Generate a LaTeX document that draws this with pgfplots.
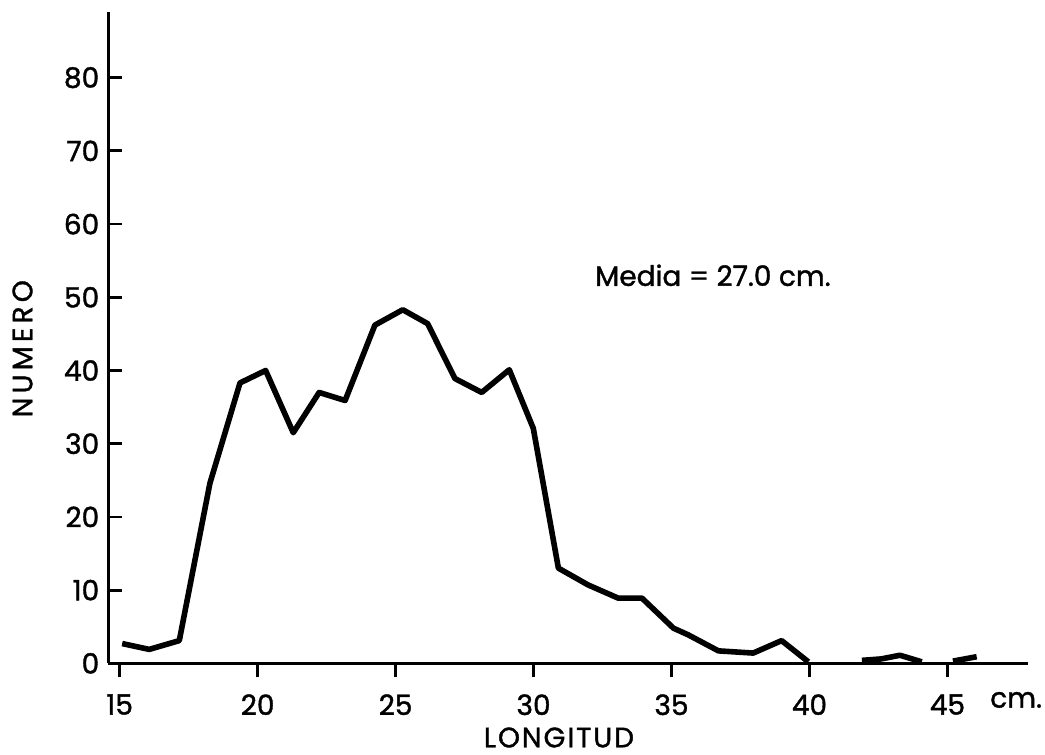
\documentclass[border=0pt]{standalone}
\usepackage{fontspec}
\setmainfont{Poppins}[FakeBold=1.3]
\newfontfamily\spacedA{Poppins}[FakeBold=1.3, LetterSpace=15]
\newfontfamily\spacedB{Poppins}[FakeBold=1.3, LetterSpace=7]
\usepackage{pgfplots}
\pgfplotsset{compat=1.18}

\begin{document}
\begin{tikzpicture}
\begin{axis}[
    name=ax,
    scale only axis,
    width=459.85pt, height=325.65pt,
    xmin=14.587, xmax=47.92,
    ymin=0, ymax=88.97,
    axis x line=bottom, axis y line=left,
    axis line style={-, line width=1.4pt},
    xtick={15,20,...,45},
    ytick={0,10,...,80},
    xtick align=outside, ytick align=inside,
    major tick length=7pt,
    tick style={line width=1.4pt, black},
    font=\fontsize{14}{16}\selectfont,
    /pgf/number format/assume math mode=true,
    xticklabel style={yshift=-5pt},
    yticklabel style={xshift=-1pt},
    clip=false,
]
% the curve is broken twice near the axis, so three pieces
\addplot[black, line width=2.8pt, line join=round] coordinates {
    (15.09,2.7) (16.07,1.9) (17.16,3.1) (18.27,24.6) (19.36,38.3)
    (20.29,40.0) (21.29,31.5) (22.23,37.0) (23.17,35.9) (24.25,46.2)
    (25.26,48.3) (26.16,46.4) (27.15,38.9) (28.12,37.0) (29.12,40.1)
    (29.99,32.1) (30.9,13.0) (31.98,10.7) (33.07,8.9) (33.93,8.9)
    (35.07,4.8) (35.6,3.9) (36.7,1.7) (37.96,1.4) (38.99,3.1) (39.96,0.2)
};
\addplot[black, line width=2.8pt, line join=round] coordinates {
    (41.9,0.4) (42.6,0.6) (43.28,1.1) (44.07,0.2)
};
\addplot[black, line width=2.8pt, line join=round] coordinates {
    (45.2,0.3) (46.06,0.9)
};
\node at (axis cs:36.5,53.0) {Media = 27.0 cm.};
\node at (axis cs:47.49,-5.0) {cm.};
\end{axis}
\node[rotate=90, font=\fontsize{14}{16}\spacedA] at ([xshift=-42.9pt, yshift=157.3pt]ax.south west) {NUMERO};
\node[font=\fontsize{14}{16}\spacedB] at ([xshift=225.35pt, yshift=-37.1pt]ax.south west) {LONGITUD};
\pgfresetboundingbox
\path[use as bounding box] ([xshift=-54.15pt, yshift=-45.35pt]ax.south west) rectangle ([xshift=8.5pt, yshift=6pt]ax.north east);
\end{tikzpicture}
\end{document}
